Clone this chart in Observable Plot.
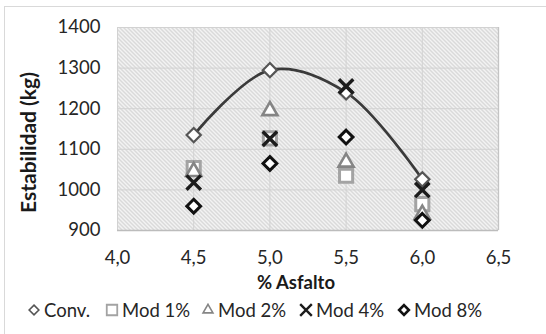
<!DOCTYPE html>
<html>
<head>
<meta charset="utf-8">
<script src="https://cdn.jsdelivr.net/npm/d3@7"></script>
<script src="https://cdn.jsdelivr.net/npm/@observablehq/plot@0.6"></script>
<style>
  html, body { margin: 0; padding: 0; background: #fff; overflow: hidden; }
  #wrap { position: relative; width: 546px; height: 334px; overflow: hidden; font-family: Lato, "Open Sans", sans-serif; }
  #border { position: absolute; left: 4px; top: 6px; width: 620px; height: 400px; border: 1.5px solid #d9d9d9; box-sizing: border-box; }
  #chart { position: absolute; left: 0; top: 0; }
  #legend { position: absolute; left: 0; top: 298px; width: 546px; height: 26px; font-size: 18.5px; color: #262626; }
  .item { position: absolute; top: 0; display: flex; align-items: center; height: 24px; white-space: nowrap; }
  .item svg { margin-right: 3px; }
</style>
</head>
<body>
<div id="wrap">
  <div id="border"></div>
  <div id="chart"></div>
  <div id="legend"></div>
</div>
<script>
// ---- data ----
const asphalt = [4.5, 5.0, 5.5, 6.0];
const conv = [1135, 1295, 1240, 1026];
const mod1 = [1054, 1127, 1035, 965];
const mod2 = [1045, 1195, 1068, 940];
const mod4 = [1018, 1126, 1255, 1000];
const mod8 = [960, 1065, 1130, 925];
const seriesNames = ["Conv.", "Mod 1%", "Mod 2%", "Mod 4%", "Mod 8%"];
const xTicks = [4.0, 4.5, 5.0, 5.5, 6.0, 6.5];
const yTicks = [900, 1000, 1100, 1200, 1300, 1400];
const xLabel = "% Asfalto";
const yLabel = "Estabilidad (kg)";

const toRows = (vals) => asphalt.map((x, i) => ({x, y: vals[i]}));

const styles = [
  {symbol: "diamond2", stroke: "#555555", strokeWidth: 2.2, r: 6.4},
  {symbol: "square", stroke: "#a3a3a3", strokeWidth: 3, r: 7.4},
  {symbol: "triangle2", stroke: "#858585", strokeWidth: 2.6, r: 7.2},
  {symbol: "times", stroke: "#1c1c1c", strokeWidth: 3.4, r: 6.6},
  {symbol: "diamond2", stroke: "#111111", strokeWidth: 3, r: 6.2}
];
const allSeries = [conv, mod1, mod2, mod4, mod8];

const fmt = d => d.toFixed(1).replace(".", ",");

const chart = Plot.plot({
  width: 546,
  height: 300,
  marginLeft: 117,
  marginRight: 48,
  marginTop: 27,
  marginBottom: 70,
  style: {fontFamily: "Lato, 'Open Sans', sans-serif", fontSize: "18.5px", color: "#262626", background: "transparent"},
  x: {domain: [4.0, 6.5], ticks: xTicks, tickFormat: fmt, tickSize: 0, tickPadding: 20, label: null},
  y: {domain: [900, 1400], ticks: yTicks, tickFormat: d => String(d), tickSize: 0, tickPadding: 17, label: null},
  marks: [
    Plot.frame({fill: "url(#hatch)", stroke: "none"}),
    Plot.gridX(xTicks, {stroke: "#d2d2d2", strokeOpacity: 1, strokeWidth: 1}),
    Plot.gridY(yTicks, {stroke: "#d2d2d2", strokeOpacity: 1, strokeWidth: 1}),
    Plot.ruleY([900], {stroke: "#bcbcbc", strokeWidth: 1.3}),
    Plot.ruleX([6.5], {stroke: "#c4c4c4", strokeWidth: 1.3}),
    Plot.line(toRows(conv), {x: "x", y: "y", curve: "catmull-rom", stroke: "#3a3a3a", strokeWidth: 2.6}),
    ...allSeries.map((vals, i) => Plot.dot(toRows(vals), {
      x: "x", y: "y",
      symbol: () => styles[i].symbol,
      r: styles[i].r,
      stroke: styles[i].stroke,
      strokeWidth: styles[i].strokeWidth,
      fill: "white"
    })),
    Plot.text([xLabel], {frameAnchor: "bottom", textAnchor: "middle", dx: -12, dy: 58, fontWeight: "bold", fontSize: 18.5, fill: "#1a1a1a"}),
    Plot.text([yLabel], {frameAnchor: "left", textAnchor: "middle", lineAnchor: "middle", rotate: -90, dx: -88, dy: 13.5, fontWeight: "bold", fontSize: 21, fill: "#1a1a1a"})
  ]
});

chart.insertAdjacentHTML("afterbegin",
  `<defs><pattern id="hatch" patternUnits="userSpaceOnUse" width="4" height="4">
     <rect width="4" height="4" fill="#f3f3f3"/>
     <path d="M-1,-1 L5,5 M-1,3 L1,5 M3,-1 L5,1" stroke="#bababa" stroke-width="0.9"/>
   </pattern></defs>`);
document.getElementById("chart").appendChild(chart);

// ---- legend ----
const legend = document.getElementById("legend");
const legendLefts = [27, 105, 201, 299, 397];
const legendSym = [
  {type: d3.symbolDiamond2, size: 60, stroke: "#555555", sw: 1.6},
  {type: d3.symbolSquare, size: 110, stroke: "#a3a3a3", sw: 1.8},
  {type: d3.symbolTriangle2, size: 70, stroke: "#858585", sw: 1.6},
  {type: d3.symbolTimes, size: 90, stroke: "#1c1c1c", sw: 2.4},
  {type: d3.symbolDiamond2, size: 60, stroke: "#111111", sw: 2.6}
];
seriesNames.forEach((name, i) => {
  const s = legendSym[i];
  const item = document.createElement("div");
  item.className = "item";
  item.style.left = legendLefts[i] + "px";
  const path = d3.symbol(s.type, s.size)();
  item.innerHTML = `<svg width="14" height="14" viewBox="-7 -7 14 14"><path d="${path}" fill="white" stroke="${s.stroke}" stroke-width="${s.sw}"/></svg><span>${name}</span>`;
  legend.appendChild(item);
});
</script>
</body>
</html>
